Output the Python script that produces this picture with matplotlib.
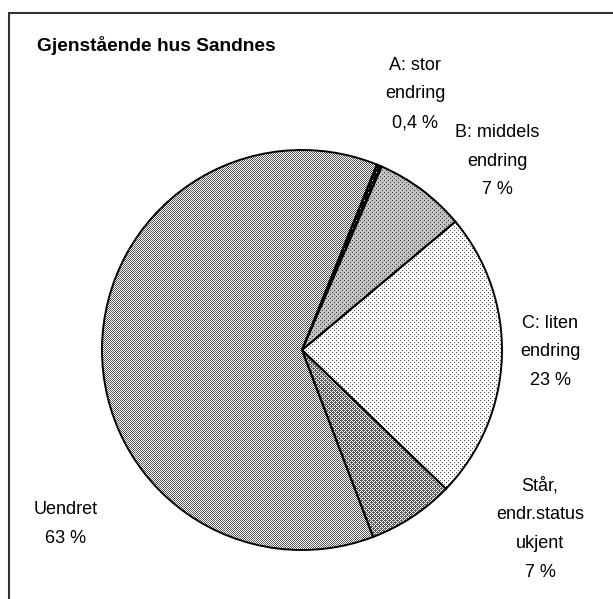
import numpy as np
import matplotlib
matplotlib.use('Agg')
import matplotlib.pyplot as plt
from matplotlib.patches import Rectangle

# chart data
title = 'Gjenstående hus Sandnes'
categories = ['A: stor\nendring', 'B: middels\nendring', 'C: liten\nendring',
              'Står,\nendr.status\nukjent', 'Uendret']
shares = [0.4, 7.4, 23.3, 7.0, 61.9]
share_labels = ['0,4 %', '7 %', '23 %', '7 %', '63 %']

# layout (pixels from top-left)
W, H = 613, 599
label_pos = [(415, 94), (497, 161), (550, 352), (540, 529), (66, 524)]

plt.rcParams['font.family'] = ['Liberation Sans', 'DejaVu Sans']

fig = plt.figure(figsize=(W / 100, H / 100), dpi=100)
ax = fig.add_axes([0, 0, 1, 1])
ax.set_zorder(2)

wedges, _ = ax.pie(shares, center=(302, H - 350), radius=200, startangle=68,
                   counterclock=False,
                   wedgeprops=dict(facecolor='none', edgecolor='black', linewidth=1.4))
ax.set_xlim(0, W)
ax.set_ylim(0, H)
ax.axis('off')

# Excel-like fill patterns, one per slice
yy, xx = np.mgrid[0:H, 0:W]


def texture(bg, fg, mask):
    img = np.full((H, W), bg, dtype=float)
    img[mask] = fg
    return np.dstack([img] * 3)


checker = (xx + yy) % 2 == 0
dots = ((xx % 4 == 0) & (yy % 4 == 0)) | ((xx % 4 == 2) & (yy % 4 == 2))
diag = checker | (((xx - yy) % 4 == 1) & (yy % 2 == 0))
patterns = [
    texture(0.05, 0.85, (xx % 4 == 0) & (yy % 4 == 0)),  # A
    texture(0.76, 0.25, dots),                            # B
    texture(1.0, 0.3, dots),                              # C
    texture(1.0, 0.35, diag),                             # Står
    texture(1.0, 0.35, checker),                          # Uendret
]
for w, p in zip(wedges, patterns):
    im = fig.figimage(p, xo=0, yo=0, origin='upper', zorder=1)
    im.set_clip_path(w)

# labels
for cat, pct, (x, y) in zip(categories, share_labels, label_pos):
    ax.text(x, H - y, cat + '\n' + pct, ha='center', va='center',
            multialignment='center', fontsize=13, linespacing=1.9)

ax.text(37, H - 51, title, fontweight='bold', fontsize=13.8, ha='left', va='baseline')

# chart area border (right and bottom edges fall outside the image)
ax.add_patch(Rectangle((9, -20), W, H - 12.5 + 20, fill=False,
                       edgecolor='#333333', linewidth=1.5, clip_on=False))

fig.savefig('out.png', dpi=100)
